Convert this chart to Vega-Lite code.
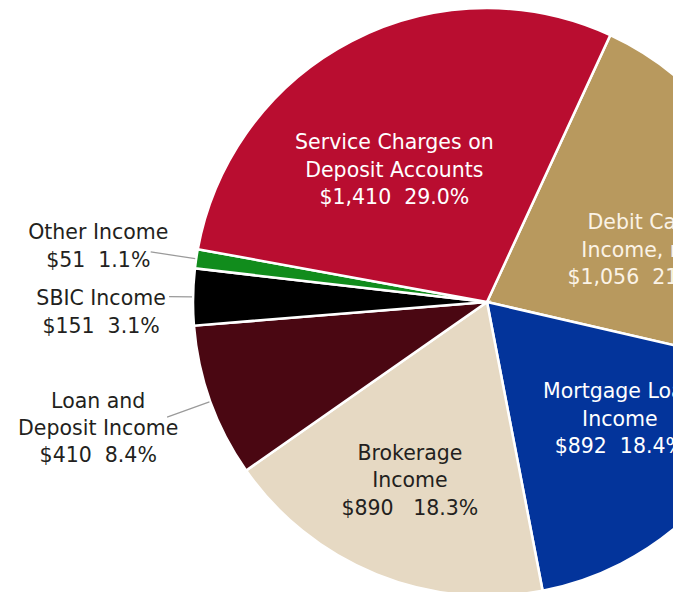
{
  "$schema": "https://vega.github.io/schema/vega-lite/v6.json",
  "width": 974,
  "height": 604,
  "autosize": {"type": "none"},
  "padding": 0,
  "background": "#FFFFFF",
  "view": {"stroke": null},
  "config": {"text": {"font": "DejaVu Sans", "fontSize": 20.5, "lineHeight": 27.3, "lineBreak": "\n", "align": "center", "baseline": "middle"}},
  "data": {"values": [
    {"category": "Debit Card Income, net", "value": 1056, "order": 1, "label": "Debit Card\nIncome, net\n$1,056\u00a0\u00a021.7%"},
    {"category": "Mortgage Loan Income", "value": 892, "order": 2, "label": "Mortgage Loan\nIncome\n$892\u00a0\u00a018.4%"},
    {"category": "Brokerage Income", "value": 890, "order": 3, "label": "Brokerage\nIncome\n$890\u00a0\u00a0\u00a018.3%"},
    {"category": "Loan and Deposit Income", "value": 410, "order": 4, "label": "Loan and\nDeposit Income\n$410\u00a0\u00a08.4%"},
    {"category": "SBIC Income", "value": 151, "order": 5, "label": "SBIC Income\n$151\u00a0\u00a03.1%"},
    {"category": "Other Income", "value": 51, "order": 6, "label": "Other Income\n$51\u00a0\u00a01.1%"},
    {"category": "Service Charges on Deposit Accounts", "value": 1410, "order": 7, "label": "Service Charges on\nDeposit Accounts\n$1,410\u00a0\u00a029.0%"}
  ]},
  "transform": [
    {"stack": "value", "groupby": [], "sort": [{"field": "order", "order": "ascending"}], "as": ["v0", "v1"]},
    {"calculate": "(datum.v0 + datum.v1) / 2", "as": "mid"}
  ],
  "layer": [
    {
      "mark": {"type": "arc", "radius": 294, "stroke": "#FFFFFF", "strokeWidth": 2.5},
      "encoding": {
        "theta": {"field": "v0", "type": "quantitative", "scale": {"type": "linear", "domain": [0, 4860], "range": [0.4328, 6.716], "zero": false}},
        "theta2": {"field": "v1"},
        "color": {"field": "category", "type": "nominal", "legend": null,
          "scale": {"domain": ["Debit Card Income, net", "Mortgage Loan Income", "Brokerage Income", "Loan and Deposit Income", "SBIC Income", "Other Income", "Service Charges on Deposit Accounts"],
                    "range": ["#B8995E", "#03349B", "#E6D9C3", "#4A0712", "#000000", "#118C1C", "#B90D30"]}}
      }
    },
    {
      "transform": [{"filter": "datum.category == 'Other Income' || datum.category == 'Loan and Deposit Income'"}],
      "mark": {"type": "arc", "radius": 295, "radius2": 340, "stroke": "#9A9A9A", "strokeWidth": 1.2, "fill": null},
      "encoding": {
        "theta": {"field": "mid", "type": "quantitative", "scale": {"type": "linear", "domain": [0, 4860], "range": [0.4328, 6.716], "zero": false}},
        "theta2": {"field": "mid"}
      }
    },
    {
      "transform": [{"filter": "datum.category == 'SBIC Income'"}],
      "mark": {"type": "arc", "radius": 295, "radius2": 318, "stroke": "#9A9A9A", "strokeWidth": 1.2, "fill": null},
      "encoding": {
        "theta": {"field": "mid", "type": "quantitative", "scale": {"type": "linear", "domain": [0, 4860], "range": [0.4328, 6.716], "zero": false}},
        "theta2": {"field": "mid"}
      }
    },
    {
      "transform": [{"filter": "datum.category == 'Service Charges on Deposit Accounts'"}],
      "mark": {"type": "text", "radius": 162, "dx": -18, "dy": -15, "color": "#FFFFFF"},
      "encoding": {
        "theta": {"field": "mid", "type": "quantitative", "scale": {"type": "linear", "domain": [0, 4860], "range": [0.4328, 6.716], "zero": false}},
        "text": {"field": "label"}
      }
    },
    {
      "transform": [{"filter": "datum.category == 'Debit Card Income, net'"}],
      "mark": {"type": "text", "radius": 163, "dx": 9, "dy": -7, "color": "#FBF3E6"},
      "encoding": {
        "theta": {"field": "mid", "type": "quantitative", "scale": {"type": "linear", "domain": [0, 4860], "range": [0.4328, 6.716], "zero": false}},
        "text": {"field": "label"}
      }
    },
    {
      "transform": [{"filter": "datum.category == 'Mortgage Loan Income'"}],
      "mark": {"type": "text", "radius": 177, "dx": 10, "dy": -37, "color": "#FFFFFF"},
      "encoding": {
        "theta": {"field": "mid", "type": "quantitative", "scale": {"type": "linear", "domain": [0, 4860], "range": [0.4328, 6.716], "zero": false}},
        "text": {"field": "label"}
      }
    },
    {
      "transform": [{"filter": "datum.category == 'Brokerage Income'"}],
      "mark": {"type": "text", "radius": 192, "dx": -5, "dy": -26, "color": "#231F20"},
      "encoding": {
        "theta": {"field": "mid", "type": "quantitative", "scale": {"type": "linear", "domain": [0, 4860], "range": [0.4328, 6.716], "zero": false}},
        "text": {"field": "label"}
      }
    },
    {
      "transform": [{"filter": "datum.category == 'Other Income'"}],
      "mark": {"type": "text", "radius": 392, "dx": -1, "dy": -11, "color": "#231F20"},
      "encoding": {
        "theta": {"field": "mid", "type": "quantitative", "scale": {"type": "linear", "domain": [0, 4860], "range": [0.4328, 6.716], "zero": false}},
        "text": {"field": "label"}
      }
    },
    {
      "transform": [{"filter": "datum.category == 'SBIC Income'"}],
      "mark": {"type": "text", "radius": 386, "dy": 4, "color": "#231F20"},
      "encoding": {
        "theta": {"field": "mid", "type": "quantitative", "scale": {"type": "linear", "domain": [0, 4860], "range": [0.4328, 6.716], "zero": false}},
        "text": {"field": "label"}
      }
    },
    {
      "transform": [{"filter": "datum.category == 'Loan and Deposit Income'"}],
      "mark": {"type": "text", "radius": 410, "dx": -3, "dy": -39, "color": "#231F20"},
      "encoding": {
        "theta": {"field": "mid", "type": "quantitative", "scale": {"type": "linear", "domain": [0, 4860], "range": [0.4328, 6.716], "zero": false}},
        "text": {"field": "label"}
      }
    }
  ]
}
